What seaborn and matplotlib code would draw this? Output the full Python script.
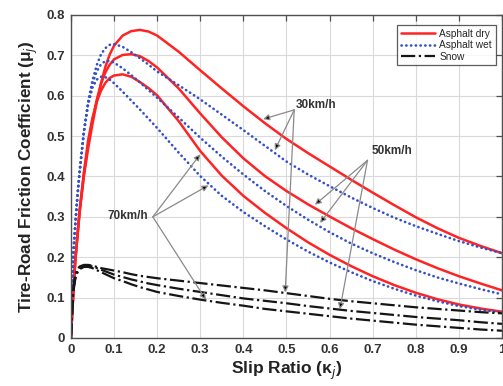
import matplotlib
matplotlib.use("Agg")
import matplotlib.pyplot as plt
import seaborn as sns
import pandas as pd
from matplotlib.lines import Line2D

sns.set_theme(style="white")
plt.rcParams['font.family'] = ['Liberation Sans', 'DejaVu Sans']

slip = [0, 0.005, 0.01, 0.015, 0.02, 0.03, 0.04, 0.05, 0.06, 0.07, 0.08, 0.09,
        0.10, 0.12, 0.14, 0.16, 0.18, 0.20, 0.25, 0.30, 0.35, 0.40, 0.45, 0.50,
        0.55, 0.60, 0.65, 0.70, 0.75, 0.80, 0.85, 0.90, 0.95, 1.00]

dry_30 = [0, 0.10, 0.19, 0.25, 0.31, 0.40, 0.47, 0.53, 0.585, 0.632, 0.672, 0.702,
          0.724, 0.749, 0.760, 0.763, 0.759, 0.749, 0.709, 0.663, 0.618, 0.574, 0.532, 0.493,
          0.458, 0.425, 0.392, 0.360, 0.329, 0.299, 0.272, 0.248, 0.228, 0.210]
dry_50 = [0, 0.10, 0.19, 0.25, 0.31, 0.405, 0.48, 0.54, 0.590, 0.630, 0.658, 0.677,
          0.690, 0.701, 0.703, 0.698, 0.686, 0.670, 0.618, 0.556, 0.497, 0.445, 0.401, 0.364,
          0.331, 0.301, 0.272, 0.245, 0.219, 0.195, 0.173, 0.153, 0.135, 0.118]
dry_70 = [0, 0.10, 0.19, 0.255, 0.315, 0.41, 0.49, 0.545, 0.585, 0.613, 0.632, 0.644,
          0.650, 0.653, 0.647, 0.634, 0.619, 0.601, 0.537, 0.463, 0.402, 0.352, 0.310, 0.272,
          0.237, 0.206, 0.178, 0.153, 0.131, 0.112, 0.096, 0.083, 0.073, 0.065]
wet_30 = [0, 0.20, 0.28, 0.35, 0.41, 0.51, 0.585, 0.638, 0.676, 0.703, 0.718, 0.726,
          0.728, 0.721, 0.708, 0.693, 0.677, 0.660, 0.626, 0.591, 0.553, 0.515, 0.476, 0.437,
          0.405, 0.376, 0.348, 0.322, 0.298, 0.277, 0.258, 0.240, 0.224, 0.210]
wet_50 = [0, 0.20, 0.28, 0.35, 0.41, 0.51, 0.583, 0.630, 0.661, 0.678, 0.686, 0.686,
          0.682, 0.668, 0.651, 0.633, 0.614, 0.595, 0.546, 0.496, 0.449, 0.405, 0.364, 0.327,
          0.293, 0.262, 0.234, 0.210, 0.188, 0.168, 0.150, 0.135, 0.121, 0.108]
wet_70 = [0, 0.20, 0.28, 0.35, 0.41, 0.51, 0.578, 0.620, 0.640, 0.647, 0.646, 0.640,
          0.631, 0.610, 0.588, 0.566, 0.543, 0.520, 0.459, 0.401, 0.352, 0.312, 0.277, 0.244,
          0.214, 0.187, 0.163, 0.141, 0.122, 0.105, 0.091, 0.079, 0.070, 0.063]
snow_30 = [0, 0.12, 0.155, 0.170, 0.177, 0.181, 0.181, 0.179, 0.176, 0.173, 0.171, 0.169,
           0.167, 0.163, 0.158, 0.154, 0.151, 0.148, 0.142, 0.136, 0.130, 0.124, 0.118, 0.111,
           0.104, 0.097, 0.091, 0.086, 0.081, 0.076, 0.072, 0.068, 0.064, 0.061]
snow_50 = [0, 0.115, 0.150, 0.166, 0.174, 0.179, 0.179, 0.177, 0.173, 0.169, 0.165, 0.161,
           0.157, 0.151, 0.145, 0.140, 0.135, 0.131, 0.122, 0.114, 0.106, 0.098, 0.092, 0.086,
           0.079, 0.073, 0.067, 0.062, 0.057, 0.052, 0.048, 0.044, 0.039, 0.035]
snow_70 = [0, 0.11, 0.145, 0.162, 0.170, 0.176, 0.176, 0.173, 0.168, 0.163, 0.158, 0.153,
           0.148, 0.141, 0.133, 0.126, 0.120, 0.114, 0.104, 0.095, 0.087, 0.080, 0.072, 0.066,
           0.060, 0.054, 0.048, 0.043, 0.038, 0.033, 0.029, 0.025, 0.021, 0.018]

surfaces = ["Asphalt dry", "Asphalt wet", "Snow"]
speeds = ["30km/h", "50km/h", "70km/h"]
xticks = [0, 0.1, 0.2, 0.3, 0.4, 0.5, 0.6, 0.7, 0.8, 0.9, 1.0]
xticklabels = ["0", "0.1", "0.2", "0.3", "0.4", "0.5", "0.6", "0.7", "0.8", "0.9", "1"]
yticks = [0, 0.1, 0.2, 0.3, 0.4, 0.5, 0.6, 0.7, 0.8]
yticklabels = ["0", "0.1", "0.2", "0.3", "0.4", "0.5", "0.6", "0.7", "0.8"]

curves = {
    ("Asphalt dry", "30km/h"): dry_30, ("Asphalt dry", "50km/h"): dry_50, ("Asphalt dry", "70km/h"): dry_70,
    ("Asphalt wet", "30km/h"): wet_30, ("Asphalt wet", "50km/h"): wet_50, ("Asphalt wet", "70km/h"): wet_70,
    ("Snow", "30km/h"): snow_30, ("Snow", "50km/h"): snow_50, ("Snow", "70km/h"): snow_70,
}
rows = []
for (surf, spd), vals in curves.items():
    for s, m in zip(slip, vals):
        rows.append({"slip": s, "mu": m, "surface": surf, "speed": spd})
df = pd.DataFrame(rows)

colors = {"Asphalt dry": "#ff2424", "Asphalt wet": "#3450c8", "Snow": "#151515"}
widths = {"Asphalt dry": 1.8, "Asphalt wet": 1.9, "Snow": 1.6}
dash_map = {"Asphalt dry": "-", "Asphalt wet": (0, (0.1, 1.7)), "Snow": "-."}
caps = {"Asphalt dry": "butt", "Asphalt wet": "round", "Snow": "butt"}

fig = plt.figure(figsize=(5.03, 3.86), dpi=100)
ax = fig.add_axes([0.141, 0.1244, 0.857, 0.8368])

for surf in surfaces:
    sub = df[df["surface"] == surf]
    sns.lineplot(data=sub, x="slip", y="mu", units="speed", estimator=None,
                 color=colors[surf], linewidth=widths[surf], linestyle=dash_map[surf],
                 dash_capstyle=caps[surf], solid_joinstyle="round",
                 ax=ax, legend=False, sort=False)

ax.set_xlim(0, 1)
ax.set_ylim(0, 0.8)
ax.set_xticks(xticks)
ax.set_xticklabels(xticklabels)
ax.set_yticks(yticks)
ax.set_yticklabels(yticklabels)
ax.grid(True, color="#dadada", linewidth=0.8)
ax.set_axisbelow(True)
for sp in ax.spines.values():
    sp.set_color("#505050")
    sp.set_linewidth(1.0)
ax.tick_params(direction="in", top=True, right=True, length=4, width=0.9,
               color="#505050", labelsize=9.5, pad=4)
for lab in ax.get_xticklabels() + ax.get_yticklabels():
    lab.set_fontweight("bold")
    lab.set_color("#333333")

ax.set_xlabel("Slip Ratio (\u03ba$_j$)", fontsize=12.5, fontweight="bold",
              color="#222222", labelpad=3)
ax.set_ylabel("Tire-Road Friction Coefficient (\u03bc$_j$)", fontsize=12.3,
              fontweight="bold", color="#222222", labelpad=5)

arrow_kw = dict(arrowstyle="-|>", ec="#8a8a8a", fc="black", lw=0.9, mutation_scale=9,
                shrinkA=0, shrinkB=0)
lab_kw = dict(fontsize=8.5, fontweight="bold", color="#333333", va="center", ha="left")

# 30 km/h
ax.text(0.522, 0.578, speeds[0], **lab_kw)
for tip in [(0.446, 0.542), (0.473, 0.465), (0.497, 0.113)]:
    ax.annotate("", xy=tip, xytext=(0.518, 0.565), arrowprops=arrow_kw)
# 50 km/h
ax.text(0.698, 0.462, speeds[1], **lab_kw)
for tip in [(0.566, 0.33), (0.578, 0.285), (0.624, 0.071)]:
    ax.annotate("", xy=tip, xytext=(0.688, 0.44), arrowprops=arrow_kw)
# 70 km/h
ax.text(0.086, 0.303, speeds[2], **lab_kw)
for tip in [(0.30, 0.455), (0.319, 0.378), (0.313, 0.095)]:
    ax.annotate("", xy=tip, xytext=(0.19, 0.30), arrowprops=arrow_kw)

handles = [Line2D([0], [0], color=colors[s], lw=widths[s], linestyle=dash_map[s],
                  dash_capstyle=caps[s]) for s in surfaces]
leg = ax.legend(handles, surfaces, loc="upper right", bbox_to_anchor=(0.99, 0.975),
                fontsize=7.3, frameon=True, fancybox=False, handlelength=3.4,
                borderpad=0.35, labelspacing=0.15, handletextpad=0.4, borderaxespad=0.2)
leg.get_frame().set_edgecolor("#333333")
leg.get_frame().set_linewidth(0.9)

fig.savefig("out.png", dpi=100)
